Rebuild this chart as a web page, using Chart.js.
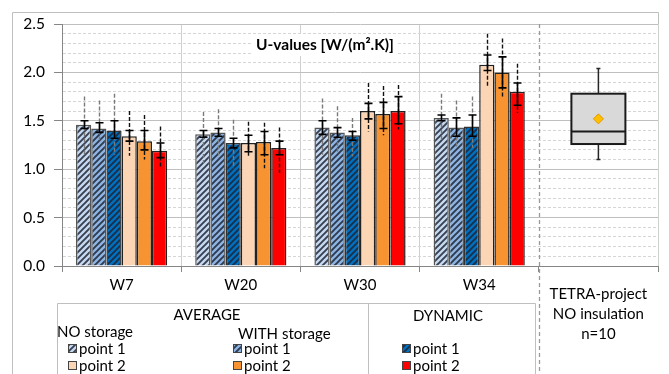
<!DOCTYPE html>
<html>
<head>
<meta charset="utf-8">
<script src="https://cdn.jsdelivr.net/npm/chart.js@4.4.1/dist/chart.umd.min.js"></script>
<style>
  html, body { margin: 0; padding: 0; background: #fff; }
  #wrap { position: relative; width: 669px; height: 374px; }
</style>
</head>
<body>
<div id="wrap"><canvas id="uChart"></canvas></div>
<script>
const categories = ["W7", "W20", "W30", "W34", "TETRA"];
const tetraLabel = ["TETRA-project", "NO insulation", "n=10"];

// mean U-values (last slot is the TETRA box plot column)
const noStorageP1   = [1.46, 1.36, 1.43, 1.53, null];
const withStorageP1 = [1.42, 1.38, 1.38, 1.43, null];
const dynamicP1     = [1.40, 1.27, 1.35, 1.44, null];
const noStorageP2   = [1.34, 1.27, 1.60, 2.08, null];
const withStorageP2 = [1.29, 1.28, 1.57, 2.00, null];
const dynamicP2     = [1.19, 1.22, 1.60, 1.80, null];

// min / max range (dashed)
const noStorageP1Range   = [[1.13, 1.75], [1.06, 1.59], [1.15, 1.73], [1.30, 1.78]];
const withStorageP1Range = [[1.30, 1.71], [1.12, 1.62], [1.18, 1.65], [1.23, 1.71]];
const dynamicP1Range     = [[1.15, 1.78], [1.01, 1.51], [1.13, 1.53], [1.22, 1.75]];
const noStorageP2Range   = [[1.14, 1.60], [1.12, 1.49], [1.39, 1.89], [1.85, 2.40]];
const withStorageP2Range = [[1.10, 1.56], [1.01, 1.48], [1.35, 1.86], [1.75, 2.35]];
const dynamicP2Range     = [[1.01, 1.44], [0.96, 1.43], [1.41, 1.87], [1.58, 2.09]];

// spread around the mean (solid)
const noStorageP1Spread   = [[1.42, 1.50], [1.33, 1.40], [1.36, 1.50], [1.50, 1.56]];
const withStorageP1Spread = [[1.38, 1.48], [1.34, 1.42], [1.33, 1.43], [1.34, 1.53]];
const dynamicP1Spread     = [[1.32, 1.50], [1.22, 1.32], [1.30, 1.39], [1.34, 1.56]];
const noStorageP2Spread   = [[1.29, 1.40], [1.18, 1.35], [1.52, 1.68], [2.02, 2.18]];
const withStorageP2Spread = [[1.20, 1.40], [1.15, 1.39], [1.42, 1.69], [1.84, 2.16]];
const dynamicP2Spread     = [[1.12, 1.27], [1.15, 1.29], [1.47, 1.75], [1.66, 1.89]];

// TETRA-project: min, q1, median, q3, max and mean
const tetraBox  = [1.10, 1.26, 1.39, 1.78, 2.04];
const tetraMean = 1.52;

const FONT = "Lato, 'Open Sans', sans-serif";

function hatch(base) {
  const c = document.createElement("canvas");
  c.width = 6; c.height = 6;
  const g = c.getContext("2d");
  g.fillStyle = base;
  g.fillRect(0, 0, 6, 6);
  g.strokeStyle = "rgba(30,35,50,0.85)";
  g.lineWidth = 1.9;
  g.beginPath();
  g.moveTo(0, 6); g.lineTo(6, 0);
  g.moveTo(-1, 1); g.lineTo(1, -1);
  g.moveTo(5, 7); g.lineTo(7, 5);
  g.stroke();
  return g.createPattern(c, "repeat");
}

function makeSet(label, data, fill, border, range, spread, dashColor) {
  return {
    label: label,
    data: data,
    backgroundColor: fill,
    borderColor: border,
    borderWidth: 1.5,
    range: range,
    spread: spread,
    dashColor: dashColor
  };
}

const datasets = [
  makeSet("NO storage point 1", noStorageP1, hatch("#c5d9f1"), "#555", noStorageP1Range, noStorageP1Spread, "#7a7a7a"),
  makeSet("WITH storage point 1", withStorageP1, hatch("#8db4e2"), "#555", withStorageP1Range, withStorageP1Spread, "#7a7a7a"),
  makeSet("DYNAMIC point 1", dynamicP1, hatch("#0070c0"), "#333", dynamicP1Range, dynamicP1Spread, "#7a7a7a"),
  makeSet("NO storage point 2", noStorageP2, "#fcd5b4", "#222", noStorageP2Range, noStorageP2Spread, "#111"),
  makeSet("WITH storage point 2", withStorageP2, "#f79431", "#222", withStorageP2Range, withStorageP2Spread, "#111"),
  makeSet("DYNAMIC point 2", dynamicP2, "#ff0000", "#222", dynamicP2Range, dynamicP2Spread, "#111")
];

// dashed min-max lines + solid spread with small caps
const errorBars = {
  id: "errorBars",
  afterDatasetsDraw(chart) {
    const ctx = chart.ctx;
    const y = chart.scales.y;
    chart.data.datasets.forEach((ds, i) => {
      const meta = chart.getDatasetMeta(i);
      meta.data.forEach((bar, j) => {
        if (ds.data[j] == null) return;
        const x = Math.round(bar.x) + 0.5;
        ctx.save();
        ctx.strokeStyle = ds.dashColor;
        ctx.lineWidth = 1.4;
        ctx.setLineDash([4, 2]);
        ctx.beginPath();
        ctx.moveTo(x, y.getPixelForValue(ds.range[j][1]));
        ctx.lineTo(x, y.getPixelForValue(ds.range[j][0]));
        ctx.stroke();
        ctx.setLineDash([]);
        ctx.strokeStyle = "#000";
        ctx.lineWidth = 1.6;
        const lo = y.getPixelForValue(ds.spread[j][0]);
        const hi = y.getPixelForValue(ds.spread[j][1]);
        ctx.beginPath();
        ctx.moveTo(x, hi);
        ctx.lineTo(x, lo);
        ctx.moveTo(x - 4, hi); ctx.lineTo(x + 4, hi);
        ctx.moveTo(x - 4, lo); ctx.lineTo(x + 4, lo);
        ctx.stroke();
        ctx.restore();
      });
    });
  }
};

// box plot for the TETRA column
const boxPlot = {
  id: "boxPlot",
  afterDatasetsDraw(chart) {
    const ctx = chart.ctx;
    const x = chart.scales.x.getPixelForValue(4);
    const y = chart.scales.y;
    const [mn, q1, med, q3, mx] = tetraBox.map(v => y.getPixelForValue(v));
    const half = 27;
    ctx.save();
    ctx.strokeStyle = "#262626";
    ctx.lineWidth = 1.5;
    ctx.beginPath();
    ctx.moveTo(x, mx); ctx.lineTo(x, q3);
    ctx.moveTo(x, q1); ctx.lineTo(x, mn);
    ctx.moveTo(x - 2, mx); ctx.lineTo(x + 2, mx);
    ctx.moveTo(x - 2, mn); ctx.lineTo(x + 2, mn);
    ctx.stroke();
    ctx.fillStyle = "#d9d9d9";
    ctx.fillRect(x - half, q3, half * 2, q1 - q3);
    ctx.lineWidth = 2;
    ctx.strokeStyle = "#1a1a1a";
    ctx.strokeRect(x - half, q3, half * 2, q1 - q3);
    ctx.beginPath();
    ctx.moveTo(x - half, med); ctx.lineTo(x + half, med);
    ctx.stroke();
    const my = y.getPixelForValue(tetraMean);
    ctx.beginPath();
    ctx.moveTo(x, my - 5); ctx.lineTo(x + 5, my);
    ctx.lineTo(x, my + 5); ctx.lineTo(x - 5, my);
    ctx.closePath();
    ctx.fillStyle = "#ffc000";
    ctx.fill();
    ctx.lineWidth = 1;
    ctx.strokeStyle = "#e69500";
    ctx.stroke();
    ctx.restore();
  }
};

// frame, separator, title, TETRA label and the grouped legend
const decorations = {
  id: "decorations",
  afterDraw(chart) {
    const ctx = chart.ctx;
    const area = chart.chartArea;
    const xs = chart.scales.x;
    const H = chart.height;
    ctx.save();

    ctx.strokeStyle = "#bfbfbf";
    ctx.lineWidth = 1;
    ctx.beginPath();
    ctx.moveTo(12.5, H); ctx.lineTo(12.5, 12.5); ctx.lineTo(658.5, 12.5); ctx.lineTo(658.5, area.top);
    ctx.stroke();

    const sep = Math.round((xs.getPixelForValue(3) + xs.getPixelForValue(4)) / 2) + 0.5;
    ctx.strokeStyle = "#9a9a9a";
    ctx.lineWidth = 1.3;
    ctx.setLineDash([4, 3]);
    ctx.beginPath();
    ctx.moveTo(sep, area.top); ctx.lineTo(sep, H);
    ctx.stroke();
    ctx.setLineDash([]);

    // chart title on a white box
    ctx.font = "bold 15.5px " + FONT;
    const title = "U-values [W/(m\u00b2.K)]";
    const tx = area.left + 263, ty = area.top + 21;
    const tw = ctx.measureText(title).width;
    ctx.fillStyle = "#fff";
    ctx.fillRect(tx - tw / 2 - 4, ty - 11, tw + 8, 22);
    ctx.fillStyle = "#000";
    ctx.textAlign = "center";
    ctx.textBaseline = "middle";
    ctx.fillText(title, tx, ty);

    ctx.font = "15px " + FONT;
    ctx.fillStyle = "#000";
    const cx = xs.getPixelForValue(4);
    tetraLabel.forEach((line, k) => ctx.fillText(line, cx, 294 + k * 20));

    // legend box
    ctx.strokeStyle = "#bfbfbf";
    ctx.lineWidth = 1;
    ctx.beginPath();
    ctx.moveTo(57.5, H); ctx.lineTo(57.5, 303.5); ctx.lineTo(535.5, 303.5); ctx.lineTo(535.5, H);
    ctx.moveTo(368.5, 303.5); ctx.lineTo(368.5, H);
    ctx.stroke();

    ctx.fillText("AVERAGE", 207, 315);
    ctx.fillText("DYNAMIC", 448, 316);
    ctx.textAlign = "left";
    ctx.fillText("NO storage", 57, 332);
    ctx.fillText("WITH storage", 238, 334);

    const cols = [[68, 0, 3], [233, 1, 4], [402, 2, 5]];
    const ds = chart.data.datasets;
    cols.forEach(([sx, a, b]) => {
      [[a, 349], [b, 366]].forEach(([idx, ry]) => {
        ctx.fillStyle = ds[idx].backgroundColor;
        ctx.fillRect(sx, ry - 5, 9, 9);
        ctx.strokeStyle = "#444";
        ctx.strokeRect(sx + 0.5, ry - 4.5, 8, 8);
        ctx.fillStyle = "#000";
        ctx.fillText("point " + (idx < 3 ? 1 : 2), sx + 11, ry);
      });
    });
    ctx.restore();
  }
};

const isMajor = v => Math.abs(v * 2 - Math.round(v * 2)) < 1e-6;

new Chart(document.getElementById("uChart"), {
  type: "bar",
  data: { labels: categories, datasets: datasets },
  plugins: [errorBars, boxPlot, decorations],
  options: {
    responsive: true,
    maintainAspectRatio: false,
    animation: false,
    layout: { padding: { left: 12, top: 24, right: 11, bottom: 0 } },
    datasets: { bar: { barPercentage: 1, categoryPercentage: 0.765 } },
    plugins: { legend: { display: false }, tooltip: { enabled: false } },
    scales: {
      x: {
        afterFit: s => { s.height = 108; },
        grid: {
          offset: true,
          color: c => (c.index === 0 || c.index === 4) ? "rgba(0,0,0,0)" : "#d0d0d0",
          tickColor: "#868686",
          tickLength: 6
        },
        border: { color: "#868686" },
        ticks: {
          padding: 4,
          color: "#000",
          font: { family: FONT, size: 15 },
          callback: (v, i) => i < 4 ? categories[i] : ""
        }
      },
      y: {
        min: 0,
        max: 2.5,
        afterFit: s => { s.width = 50; },
        grid: {
          color: c => (c.tick && isMajor(c.tick.value)) ? "#bfbfbf" : "#d6d6d6",
          tickColor: c => (c.tick && isMajor(c.tick.value)) ? "#868686" : "rgba(0,0,0,0)",
          tickLength: 8
        },
        border: {
          color: "#868686",
          dash: c => (c.tick && !isMajor(c.tick.value)) ? [3, 2] : []
        },
        ticks: {
          stepSize: 0.1,
          autoSkip: false,
          padding: 9,
          color: "#000",
          font: { family: FONT, size: 15.5 },
          callback: v => isMajor(v) ? v.toFixed(1) : ""
        }
      }
    }
  }
});
</script>
</body>
</html>
